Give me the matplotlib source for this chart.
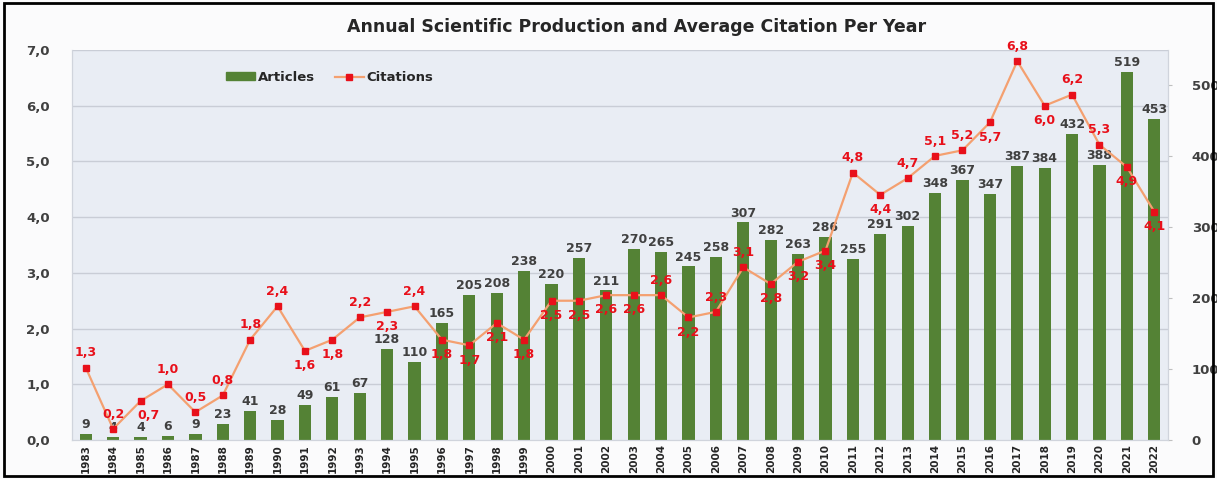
import matplotlib.pyplot as plt
import matplotlib.transforms as mtransforms
from matplotlib.lines import Line2D
from matplotlib.patches import Patch, Rectangle
from matplotlib.ticker import FuncFormatter, MultipleLocator

# ===============================
# Dados
# ===============================
years = list(range(1983, 2023))
articles = [9, 4, 4, 6, 9, 23, 41, 28, 49, 61, 67, 128, 110, 165, 205, 208,
            238, 220, 257, 211, 270, 265, 245, 258, 307, 282, 263, 286, 255,
            291, 302, 348, 367, 347, 387, 384, 432, 388, 519, 453]
citations = [1.3, 0.2, 0.7, 1.0, 0.5, 0.8, 1.8, 2.4, 1.6, 1.8, 2.2, 2.3, 2.4,
             1.8, 1.7, 2.1, 1.8, 2.5, 2.5, 2.6, 2.6, 2.6, 2.2, 2.3, 3.1, 2.8,
             3.2, 3.4, 4.8, 4.4, 4.7, 5.1, 5.2, 5.7, 6.8, 6.0, 6.2, 5.3, 4.9,
             4.1]

# lado do rótulo de citações: 1 = acima, -1 = abaixo
label_side = [1, 1, -1, 1, 1, 1, 1, 1, -1, -1, 1, -1, 1, -1, -1, -1, -1, -1,
              -1, -1, -1, 1, -1, 1, 1, -1, -1, -1, 1, -1, 1, 1, 1, -1, 1, -1,
              1, 1, -1, -1]

GREEN = "#548235"
LINE = "#f4a070"
RED = "#e8101a"
TXT = "#404040"

fig = plt.figure(figsize=(12.17, 4.79), dpi=100, facecolor="#fbfbfc")
ax = fig.add_axes([0.0592, 0.0814, 0.9005, 0.8142])   # artigos (eixo direito)
ax2 = ax.twinx()                                        # citações (eixo esquerdo)

x = list(range(len(years)))

# grade horizontal seguindo o eixo de citações, atrás das barras
blend = mtransforms.blended_transform_factory(ax.transAxes, ax2.transData)
for g in range(1, 8):
    ax.plot([0, 1], [g, g], transform=blend, color="#c9cdd6", lw=1.0, zorder=0.5)

ax.set_facecolor("#e9edf4")
bars = ax.bar(x, articles, width=0.45, color=GREEN, zorder=2)
for xi, v in zip(x, articles):
    ax.annotate(str(v), (xi, v), xytext=(0, 2), textcoords="offset points",
                ha="center", va="bottom", fontsize=9, color=TXT,
                fontweight="semibold", zorder=3)

ax2.plot(x, citations, color=LINE, lw=1.6, marker="s", markersize=4,
         markerfacecolor=RED, markeredgecolor=RED, zorder=4)
nudge = {1985: 6}
for i, (xi, v, s) in enumerate(zip(x, citations, label_side)):
    dx = nudge.get(years[i], 0)
    ax2.annotate(f"{v:.1f}".replace(".", ","), (xi, v),
                 xytext=(dx, 6 * s), textcoords="offset points",
                 ha="center", va="bottom" if s > 0 else "top",
                 fontsize=9, color=RED, fontweight="bold", zorder=5)

ax.set_xlim(-0.5, len(years) - 0.5)
ax.set_ylim(0, 550)
ax2.set_ylim(0, 7)

# artigos à direita, citações à esquerda
ax.yaxis.tick_right()
ax2.yaxis.tick_left()
ax.yaxis.set_major_locator(MultipleLocator(100))
ax2.yaxis.set_major_locator(MultipleLocator(1))
ax2.yaxis.set_major_formatter(FuncFormatter(lambda v, p: f"{v:.1f}".replace(".", ",")))

ax.set_xticks(x)
ax.set_xticklabels([str(y) for y in years], rotation=90, fontsize=7.5,
                   fontweight="bold", color="#262626")
ax.tick_params(axis="x", length=0, pad=3)
ax.tick_params(axis="y", length=3, color="#bfbfbf", labelsize=9.5,
               labelcolor=TXT, pad=14)
ax2.tick_params(axis="y", length=0, labelsize=9.5, labelcolor=TXT, pad=16)
for t in ax.get_yticklabels() + ax2.get_yticklabels():
    t.set_fontweight("bold")

for a in (ax, ax2):
    for side, sp in a.spines.items():
        sp.set_color("#d0d4dc")
        sp.set_linewidth(0.8)
ax2.spines["top"].set_visible(False)
ax.spines["top"].set_visible(False)

# legenda
handles = [Patch(facecolor=GREEN, edgecolor=GREEN, label="Articles"),
           Line2D([0], [0], color=LINE, lw=1.6, marker="s", markersize=4,
                  markerfacecolor=RED, markeredgecolor=RED, label="Citations")]
leg = ax2.legend(handles=handles, loc="center", bbox_to_anchor=(0.235, 0.93),
                 ncol=2, frameon=False, handlelength=2.2, handleheight=0.5,
                 columnspacing=1.5, handletextpad=0.2,
                 prop={"weight": "bold", "size": 9.5})
for t in leg.get_texts():
    t.set_color("#262626")

fig.text(0.523, 0.944, "Annual Scientific Production and Average Citation Per Year",
         ha="center", va="center", fontsize=12.5, fontweight="bold",
         color="#262626")

# moldura externa
fig.patches.append(Rectangle((0.003, 0.006), 0.994, 0.988, transform=fig.transFigure,
                             fill=False, edgecolor="black", lw=2))

fig.savefig("out.png", dpi=100, facecolor=fig.get_facecolor())
